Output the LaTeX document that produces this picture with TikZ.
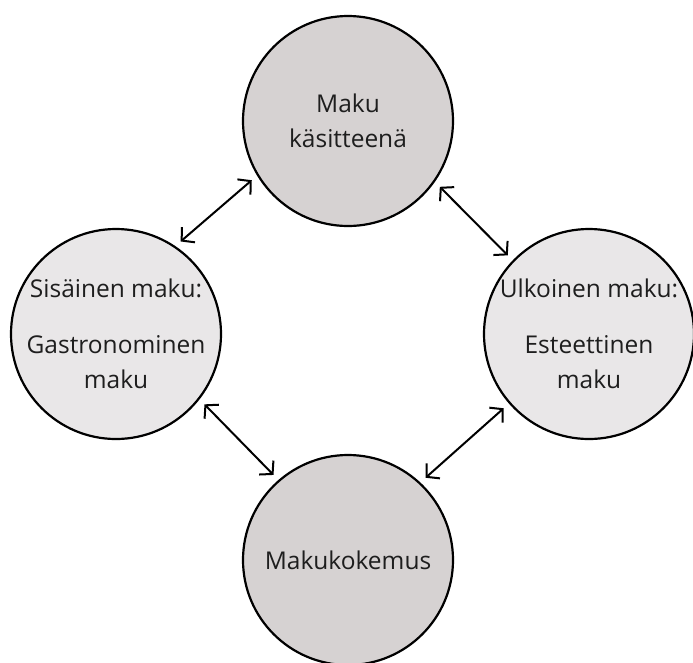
\documentclass[tikz,border=0pt]{standalone}
\usepackage{fontspec}
\setmainfont{Open Sans}
\usetikzlibrary{arrows.meta}
\definecolor{darkfill}{RGB}{214,210,210}
\definecolor{lightfill}{RGB}{233,231,232}
\definecolor{txt}{RGB}{30,30,30}
\tikzset{
  circ/.style={circle, draw=black, line width=2.2pt, minimum size=210pt, inner sep=0pt, align=center, text=txt, font=\fontsize{24.5}{35}\selectfont},
  dark/.style={circ, fill=darkfill},
  light/.style={circ, fill=lightfill},
  link/.style={line width=2pt, {Straight Barb[length=9pt,width=20pt]}-{Straight Barb[length=9pt,width=20pt]}, shorten <=7pt, shorten >=7pt}
}
\begin{document}
\begin{tikzpicture}[x=1pt,y=-1pt]
\useasboundingbox (0,0) rectangle (693,662);
\node[dark] (T) at (348,121) {Maku\\käsitteenä};
\node[light] (L) at (116,334) {Sisäinen maku:\\[21pt]Gastronominen\\maku};
\node[light] (R) at (589,334) {Ulkoinen maku:\\[21pt]Esteettinen\\maku};
\node[dark] (B) at (348,560) {Makukokemus};
\draw[link] (L.56.6) -- (T.211.8);
\draw[link] (T.-35) -- (R.136.8);
\draw[link] (L.-38.6) -- (B.131.6);
\draw[link] (B.47.7) -- (R.221.5);
\end{tikzpicture}
\end{document}
